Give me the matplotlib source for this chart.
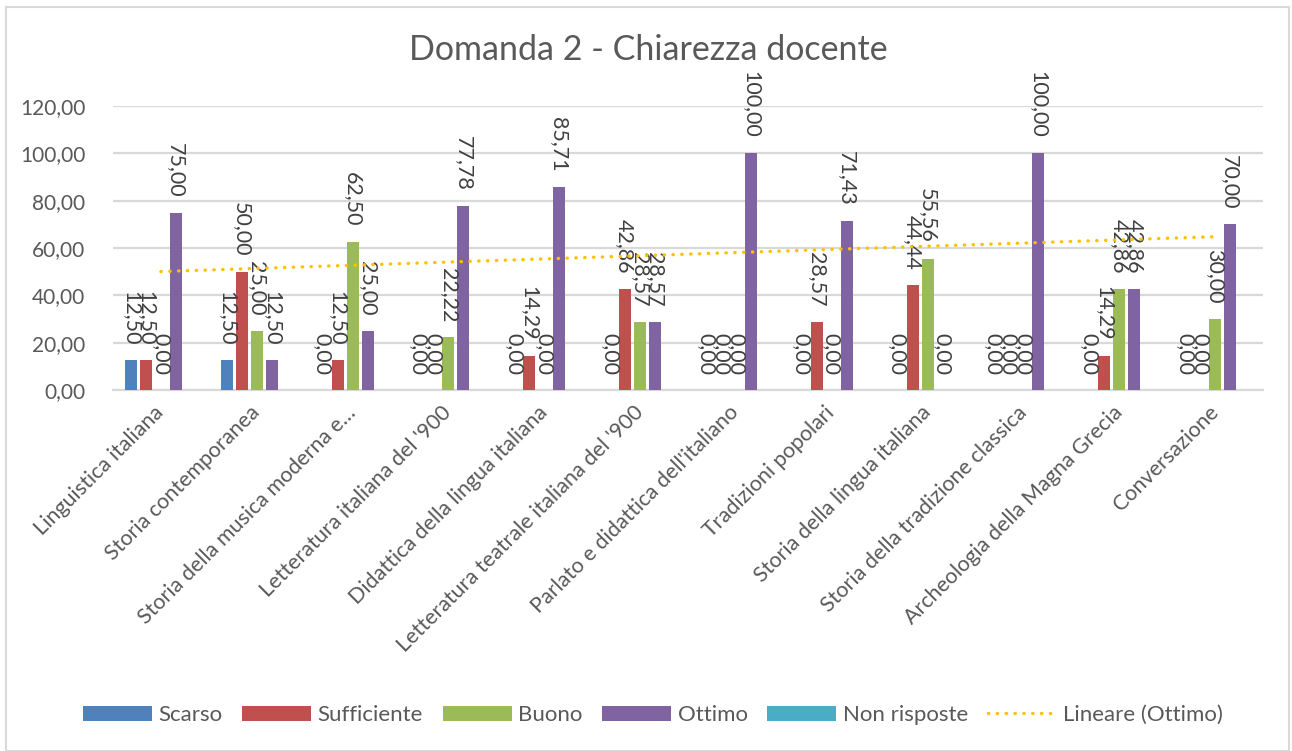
import matplotlib
matplotlib.use("Agg")
import matplotlib.pyplot as plt
from matplotlib.patches import Rectangle, Patch
from matplotlib.lines import Line2D
import numpy as np

# ── data ────────────────────────────────────────────────────────────────────
categories = [
    "Linguistica italiana",
    "Storia contemporanea",
    "Storia della musica moderna e…",
    "Letteratura italiana del '900",
    "Didattica della lingua italiana",
    "Letteratura teatrale italiana del '900",
    "Parlato e didattica dell'italiano",
    "Tradizioni popolari",
    "Storia della lingua italiana",
    "Storia della tradizione classica",
    "Archeologia della Magna Grecia",
    "Conversazione",
]
scarso      = [12.50, 12.50, 0.00, 0.00, 0.00, 0.00, 0.00, 0.00, 0.00, 0.00, 0.00, 0.00]
sufficiente = [12.50, 50.00, 12.50, 0.00, 14.29, 42.86, 0.00, 28.57, 44.44, 0.00, 14.29, 0.00]
buono       = [0.00, 25.00, 62.50, 22.22, 0.00, 28.57, 0.00, 0.00, 55.56, 0.00, 42.86, 30.00]
ottimo      = [75.00, 12.50, 25.00, 77.78, 85.71, 28.57, 100.00, 71.43, 0.00, 100.00, 42.86, 70.00]
non_risposte = [None] * 12          # empty series in the source workbook

series_names = ["Scarso", "Sufficiente", "Buono", "Ottimo", "Non risposte"]
series_vals  = [scarso, sufficiente, buono, ottimo, non_risposte]
colors = ["#4F81BD", "#C0504D", "#9BBB59", "#8064A2", "#4BACC6"]
y_ticks = [0, 20, 40, 60, 80, 100, 120]

GREY = "#595959"
GRID = "#D9D9D9"
TREND = "#FFC000"
FONT = "Lato"

plt.rcParams["font.family"] = [FONT, "DejaVu Sans"]

fig = plt.figure(figsize=(12.92, 7.51), dpi=100)
ax = fig.add_axes([113 / 1292, 1 - 390 / 751, 1150 / 1292, 284 / 751])

x = np.arange(len(categories))
slot = 0.1565
width = 0.125

handles = []
for i, (name, vals, col) in enumerate(zip(series_names, series_vals, colors)):
    h = np.array([np.nan if v is None else v for v in vals], dtype=float)
    xs = x + (i - 2) * slot
    ax.bar(xs, h, width=width, color=col, zorder=3)
    handles.append(Patch(facecolor=col, label=name))
    for xi, v in zip(xs, h):
        if np.isnan(v):
            continue
        ax.annotate(f"{v:.2f}".replace(".", ","), (xi, v),
                    xytext=(0, 11), textcoords="offset points",
                    rotation=270, ha="center", va="bottom",
                    fontsize=15.5, color="#404040", zorder=4)

# linear trendline on Ottimo (x = 1..12 like Excel)
xx = np.arange(1, len(categories) + 1)
b, a = np.polyfit(xx, ottimo, 1)
dots = (0, (0.1, 2.55))
ax.plot(x, a + b * xx, color=TREND, lw=2.4, linestyle=dots,
        dash_capstyle="round", zorder=5)
handles.append(Line2D([], [], color=TREND, lw=2.4, linestyle=dots,
                      dash_capstyle="round", label="Lineare (Ottimo)"))

ax.set_xlim(-0.5, len(categories) - 0.5)
ax.set_ylim(0, 120)
ax.set_yticks(y_ticks)
ax.set_yticklabels([f"{v:.2f}".replace(".", ",") for v in y_ticks])
ax.yaxis.grid(True, color=GRID, lw=1.6, zorder=0)
ax.set_axisbelow(True)
for s in ["top", "right", "left"]:
    ax.spines[s].set_visible(False)
ax.spines["bottom"].set_color(GRID)
ax.spines["bottom"].set_linewidth(1.6)
ax.tick_params(axis="y", length=0, pad=20, labelsize=15, labelcolor=GREY)

ax.set_xticks(x)
ax.set_xticklabels(categories, rotation=45, ha="right", va="center",
                   rotation_mode="anchor")
ax.tick_params(axis="x", length=0, pad=14, labelsize=15.5, labelcolor=GREY)

fig.text(648 / 1292, 1 - 50 / 751, "Domanda 2 - Chiarezza docente",
         ha="center", va="center", fontsize=24.5, color=GREY)

fig.legend(handles=handles, loc="center", bbox_to_anchor=(653 / 1292, 1 - 715 / 751),
           ncol=6, frameon=False, fontsize=16, labelcolor=GREY,
           handlelength=3.1, handleheight=0.68, handletextpad=0.3,
           columnspacing=0.88)

# chart-area border
fig.patches.append(Rectangle((6 / 1292, 0), 1283 / 1292, 1 - 7 / 751,
                             transform=fig.transFigure, fill=False,
                             edgecolor=GRID, lw=1.5))

fig.savefig("out.png", dpi=100)
